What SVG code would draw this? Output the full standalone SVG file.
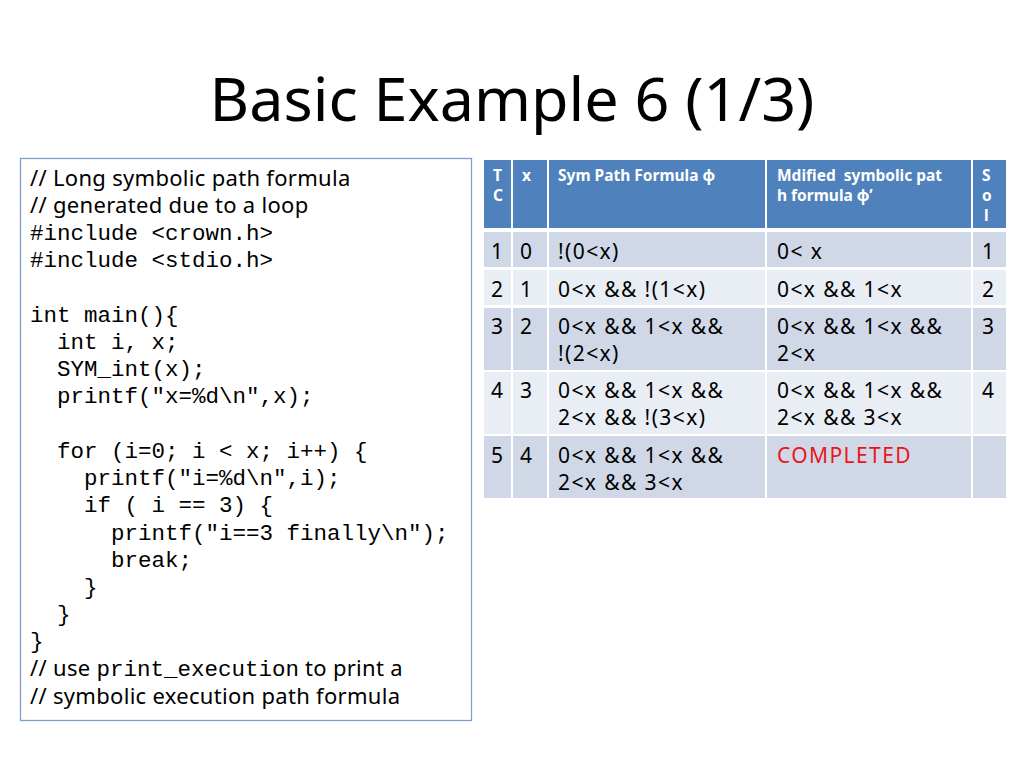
<svg xmlns="http://www.w3.org/2000/svg" width="1024" height="768" viewBox="0 0 1024 768">
<style>
.t{font-family:"Noto Sans","Open Sans",sans-serif;fill:#000}
.c{font-family:"Noto Sans","Open Sans",sans-serif;font-size:22px;letter-spacing:0.3px;fill:#000}
.m{font-family:"Liberation Mono","DejaVu Sans Mono",monospace;font-size:22.5px;letter-spacing:0;fill:#000;white-space:pre}
.h{font-family:"Noto Sans","Open Sans",sans-serif;font-size:15.5px;font-weight:bold;fill:#fff}
.d{font-family:"Noto Sans","Open Sans",sans-serif;font-size:21px;letter-spacing:1.4px;fill:#000}
.hd{fill:#4f81bd}.r1{fill:#d0d8e8}.r2{fill:#e9edf4}
</style>
<rect width="1024" height="768" fill="#fff"/>
<text class="t" x="512" y="121" font-size="61" text-anchor="middle">Basic Example 6 (1/3)</text>
<g id="code">
<rect x="20.5" y="158.5" width="451" height="562" fill="#fff" stroke="#7f9fcf" stroke-width="1.3"/>
<text class="c" x="30" y="186">// Long symbolic path formula</text>
<text class="c" x="30" y="213">// generated due to a loop</text>
<text class="m" x="30" y="240">#include &lt;crown.h&gt;</text>
<text class="m" x="30" y="267">#include &lt;stdio.h&gt;</text>
<text class="m" x="30" y="322">int main(){</text>
<text class="m" x="30" y="349">  int i, x;</text>
<text class="m" x="30" y="376">  SYM_int(x);</text>
<text class="m" x="30" y="403">  printf("x=%d\n",x);</text>
<text class="m" x="30" y="458">  for (i=0; i &lt; x; i++) {</text>
<text class="m" x="30" y="485">    printf("i=%d\n",i);</text>
<text class="m" x="30" y="512">    if ( i == 3) {</text>
<text class="m" x="30" y="540">      printf("i==3 finally\n");</text>
<text class="m" x="30" y="567">      break;</text>
<text class="m" x="30" y="594">    }</text>
<text class="m" x="30" y="621">  }</text>
<text class="m" x="30" y="648">}</text>
<text class="c" x="30" y="676">// use <tspan class="m">print_execution</tspan> to print a</text>
<text class="c" x="30" y="704">// symbolic execution path formula</text>
</g>
<g id="table">
<rect class="hd" x="484" y="160" width="27" height="68"/>
<rect class="hd" x="513" y="160" width="34" height="68"/>
<rect class="hd" x="549" y="160" width="216" height="68"/>
<rect class="hd" x="767" y="160" width="204" height="68"/>
<rect class="hd" x="973" y="160" width="33" height="68"/>
<text class="h" x="493" y="181">T</text><text class="h" x="493" y="201">C</text>
<text class="h" x="522" y="181">x</text>
<text class="h" x="558" y="181">Sym Path Formula φ</text>
<text class="h" x="777" y="181" style="white-space:pre">Mdified  symbolic pat</text><text class="h" x="777" y="201">h formula φ’</text>
<text class="h" x="982" y="181">S</text><text class="h" x="982" y="201">o</text><text class="h" x="984" y="221">l</text>

<g class="r1"><rect x="484" y="232" width="27" height="35"/><rect x="513" y="232" width="34" height="35"/><rect x="549" y="232" width="216" height="35"/><rect x="767" y="232" width="204" height="35"/><rect x="973" y="232" width="33" height="35"/></g>
<g class="r2"><rect x="484" y="270" width="27" height="35"/><rect x="513" y="270" width="34" height="35"/><rect x="549" y="270" width="216" height="35"/><rect x="767" y="270" width="204" height="35"/><rect x="973" y="270" width="33" height="35"/></g>
<g class="r1"><rect x="484" y="308" width="27" height="62"/><rect x="513" y="308" width="34" height="62"/><rect x="549" y="308" width="216" height="62"/><rect x="767" y="308" width="204" height="62"/><rect x="973" y="308" width="33" height="62"/></g>
<g class="r2"><rect x="484" y="372" width="27" height="62"/><rect x="513" y="372" width="34" height="62"/><rect x="549" y="372" width="216" height="62"/><rect x="767" y="372" width="204" height="62"/><rect x="973" y="372" width="33" height="62"/></g>
<g class="r1"><rect x="484" y="436" width="27" height="62"/><rect x="513" y="436" width="34" height="62"/><rect x="549" y="436" width="216" height="62"/><rect x="767" y="436" width="204" height="62"/><rect x="973" y="436" width="33" height="62"/></g>

<g class="d">
<text x="491" y="259">1</text><text x="520" y="259">0</text><text x="558" y="259">!(0&lt;x)</text><text x="777" y="259">0&lt; x</text><text x="982" y="259">1</text>
<text x="491" y="297">2</text><text x="520" y="297">1</text><text x="558" y="297">0&lt;x &amp;&amp; !(1&lt;x)</text><text x="777" y="297">0&lt;x &amp;&amp; 1&lt;x</text><text x="982" y="297">2</text>
<text x="491" y="334">3</text><text x="520" y="334">2</text><text x="558" y="334">0&lt;x &amp;&amp; 1&lt;x &amp;&amp;</text><text x="558" y="361">!(2&lt;x)</text><text x="777" y="334">0&lt;x &amp;&amp; 1&lt;x &amp;&amp;</text><text x="777" y="361">2&lt;x</text><text x="982" y="334">3</text>
<text x="491" y="398">4</text><text x="520" y="398">3</text><text x="558" y="398">0&lt;x &amp;&amp; 1&lt;x &amp;&amp;</text><text x="558" y="425">2&lt;x &amp;&amp; !(3&lt;x)</text><text x="777" y="398">0&lt;x &amp;&amp; 1&lt;x &amp;&amp;</text><text x="777" y="425">2&lt;x &amp;&amp; 3&lt;x</text><text x="982" y="398">4</text>
<text x="491" y="463">5</text><text x="520" y="463">4</text><text x="558" y="463">0&lt;x &amp;&amp; 1&lt;x &amp;&amp;</text><text x="558" y="490">2&lt;x &amp;&amp; 3&lt;x</text><text x="777" y="463" fill="#e8161b">COMPLETED</text>
</g>
</g>
</svg>
